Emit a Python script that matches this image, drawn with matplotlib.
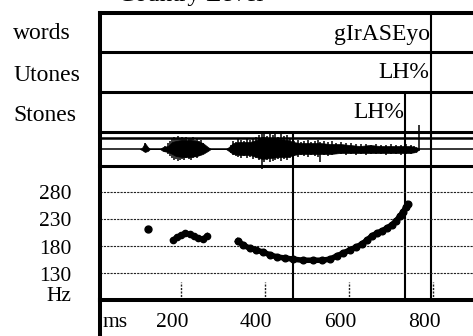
import matplotlib
matplotlib.use('Agg')
import matplotlib.pyplot as plt
from matplotlib.transforms import offset_copy

# pitch track (ms, Hz)
dot_ms = [121]
dot_hz = [211]
cluster_ms = [181, 190, 200, 210, 221, 231, 240, 252, 262]
cluster_hz = [191, 197, 200, 204, 202, 199, 195, 193, 199]
curve_ms = [336, 348, 364, 379, 395, 412, 429, 448, 467, 490, 514, 536, 555, 571, 586,
            602, 617, 631, 643, 655, 667, 679, 690, 702, 712, 721, 729, 736, 740]
curve_hz = [189, 182, 176, 173, 169, 164, 160, 158, 156, 154, 154, 154, 156, 162, 167,
            173, 178, 184, 191, 199, 204, 208, 213, 219, 226, 235, 243, 252, 257]

# waveform envelope (ms, amplitude in px above / below centre)
wave_ms = [102, 107, 114, 121, 126, 150, 157, 169, 179, 188, 202, 221, 238, 252, 264, 271,
           307, 314, 324, 340, 364, 379, 393, 412, 436, 455, 467, 483, 507, 531, 555, 579,
           602, 626, 650, 674, 698, 721, 745, 760, 767]
wave_top = [0, 1, 6, 2, 0, 0, 2, 3, 7, 8, 9, 9, 8, 6, 2, 0,
            0, 2, 6, 7, 7, 9, 12, 11, 10, 9, 7, 6, 6, 6, 5, 5,
            4, 3, 4, 3, 3, 3, 3, 2, 0]
wave_bot = [0, -1, -3, -2, 0, 0, -2, -3, -5, -7, -8, -8, -7, -5, -2, 0,
            0, -2, -5, -6, -6, -8, -10, -9, -8, -8, -6, -5, -5, -5, -5, -4,
            -4, -4, -4, -4, -4, -4, -4, -3, 0]
# individual strokes of the waveform
spike_ms = [114, 163, 168, 173, 178, 183, 188, 193, 198, 203, 208, 213, 218, 223, 228,
            233, 238, 243, 248, 253, 258, 318, 324, 330, 336, 343, 350, 357, 364, 371,
            378, 385, 392, 397, 404, 411, 418, 425, 432, 439, 446, 453, 460, 470, 478,
            486, 494, 502, 510, 518, 526, 531, 540, 550, 560, 570, 580, 592, 604, 616,
            628, 640, 652, 664, 676, 688, 700, 712, 724, 736, 748, 756, 767]
spike_top = [6, 3, 6, 8, 11, 12, 10, 13, 11, 12, 10, 12, 11, 10, 12,
             9, 11, 8, 9, 6, 3, 4, 8, 7, 10, 9, 8, 11, 9, 10,
             12, 14, 16, 15, 13, 16, 14, 15, 12, 15, 13, 14, 11, 8, 9,
             7, 8, 9, 7, 8, 9, 7, 8, 7, 8, 6, 7, 6, 6, 5,
             5, 5, 4, 5, 4, 4, 5, 4, 4, 5, 4, 3, 24]
spike_bot = [-3, -3, -5, -7, -9, -11, -10, -12, -11, -10, -11, -9, -10, -11, -9,
             -8, -9, -7, -6, -5, -3, -4, -6, -7, -8, -9, -7, -9, -8, -10,
             -9, -11, -20, -13, -11, -13, -12, -11, -10, -12, -10, -11, -9, -7, -8,
             -6, -7, -8, -6, -7, -8, -13, -6, -7, -6, -5, -5, -6, -5, -6,
             -5, -6, -5, -5, -5, -6, -5, -5, -6, -5, -5, -4, -2]

# labels and boundaries
tier_names = ['words', 'Utones', 'Stones']
word_label = 'gIrASEyo'
utone_label = 'LH%'
stone_label = 'LH%'
hz_ticks = [130, 180, 230, 280]
ms_ticks = [200, 400, 600, 800]
word_end = 795
stone_end = 734
accent_mark = 467

W, H = 473, 336
plt.rcParams['font.family'] = ['Liberation Serif', 'DejaVu Serif']
fig = plt.figure(figsize=(W / 100, H / 100), dpi=100)


def add_tier(top, bottom, top_lw):
    ax = fig.add_axes([99.5 / W, 1 - bottom / H, (480 - 99.5) / W, (bottom - top) / H])
    ax.set_facecolor('none')
    ax.set_xlim(6, 912)
    ax.set_xticks([])
    ax.set_yticks([])
    ax.spines['right'].set_visible(False)
    ax.spines['bottom'].set_visible(False)
    ax.spines['left'].set_linewidth(2.9)
    ax.spines['top'].set_linewidth(top_lw)
    return ax


ax_words = add_tier(12.5, 51.5, 2.9)
ax_utones = add_tier(51.5, 92.5, 2.2)
ax_stones = add_tier(92.5, 132, 2.2)
ax_wave = add_tier(132, 166, 2.2)
ax_pitch = add_tier(166, 300, 2.2)
ax_ms = add_tier(300, 345, 2.9)

# tier texts
ax_words.text(word_end - 3, 0.3, word_label, transform=ax_words.get_xaxis_transform(),
              ha='right', va='baseline', fontsize=17)
ax_utones.text(word_end - 3, 0.35, utone_label, transform=ax_utones.get_xaxis_transform(),
               ha='right', va='baseline', fontsize=17)
ax_stones.text(stone_end - 3, 0.35, stone_label, transform=ax_stones.get_xaxis_transform(),
               ha='right', va='baseline', fontsize=17)

for ax in [ax_words, ax_utones, ax_stones, ax_wave, ax_pitch]:
    ax.axvline(word_end, color='k', lw=1.5)
for ax in [ax_stones, ax_wave, ax_pitch]:
    ax.axvline(stone_end, color='k', lw=1.5)
for ax in [ax_wave, ax_pitch]:
    ax.axvline(accent_mark, color='k', lw=1.5)

# waveform
ax_wave.set_ylim(-17, 17)
ax_wave.axhline(11.5, color='k', lw=1.8)
ax_wave.axhline(0, color='k', lw=1.1)
ax_wave.fill_between(wave_ms, wave_bot, wave_top, color='k', lw=0.5)
ax_wave.vlines(spike_ms, spike_bot, spike_top, color='k', lw=1.1, clip_on=False)

# pitch
ax_pitch.set_ylim(80.9, 327.3)
for hz in hz_ticks:
    ax_pitch.axhline(hz, color='#222222', lw=0.8, ls=(0, (2, 1)))
ax_pitch.vlines(ms_ticks, 80.9, 114, color='#222222', lw=1.0, ls=(0, (1.5, 1)))
ax_pitch.plot(dot_ms, dot_hz, 'o', color='k', ms=5)
ax_pitch.plot(cluster_ms, cluster_hz, '-o', color='k', ms=4.5, lw=3.5)
ax_pitch.plot(curve_ms, curve_hz, '-o', color='k', ms=4.8, lw=4)

ylab = offset_copy(ax_pitch.get_yaxis_transform(), fig=fig, x=0, y=-3, units='dots')
for hz in hz_ticks:
    ax_pitch.text(-0.0736, hz, str(hz), transform=ylab, ha='right', va='center', fontsize=15.5)
ax_pitch.text(-0.0736, 88, 'Hz', transform=ax_pitch.get_yaxis_transform(),
              ha='right', va='center', fontsize=15.5)

# time axis labels
xlab = offset_copy(ax_ms.get_xaxis_transform(), fig=fig, x=-9, y=0, units='dots')
for t in ms_ticks:
    ax_ms.text(t, 1 - 23 / 45, str(t), transform=xlab, ha='center', va='center', fontsize=15.5)
ax_ms.text(14, 1 - 23 / 45, 'ms', transform=ax_ms.get_xaxis_transform(),
           ha='left', va='center', fontsize=15.5)

# left tier names
for name, base in zip(tier_names, [39, 81, 121]):
    fig.text(13 / W, 1 - base / H, name, ha='left', va='baseline', fontsize=17)

# clipped title at the very top
fig.text(118 / W, 1 - 1.5 / H, 'Country Level', ha='left', va='baseline', fontsize=18)

fig.savefig('out.png', dpi=100)
